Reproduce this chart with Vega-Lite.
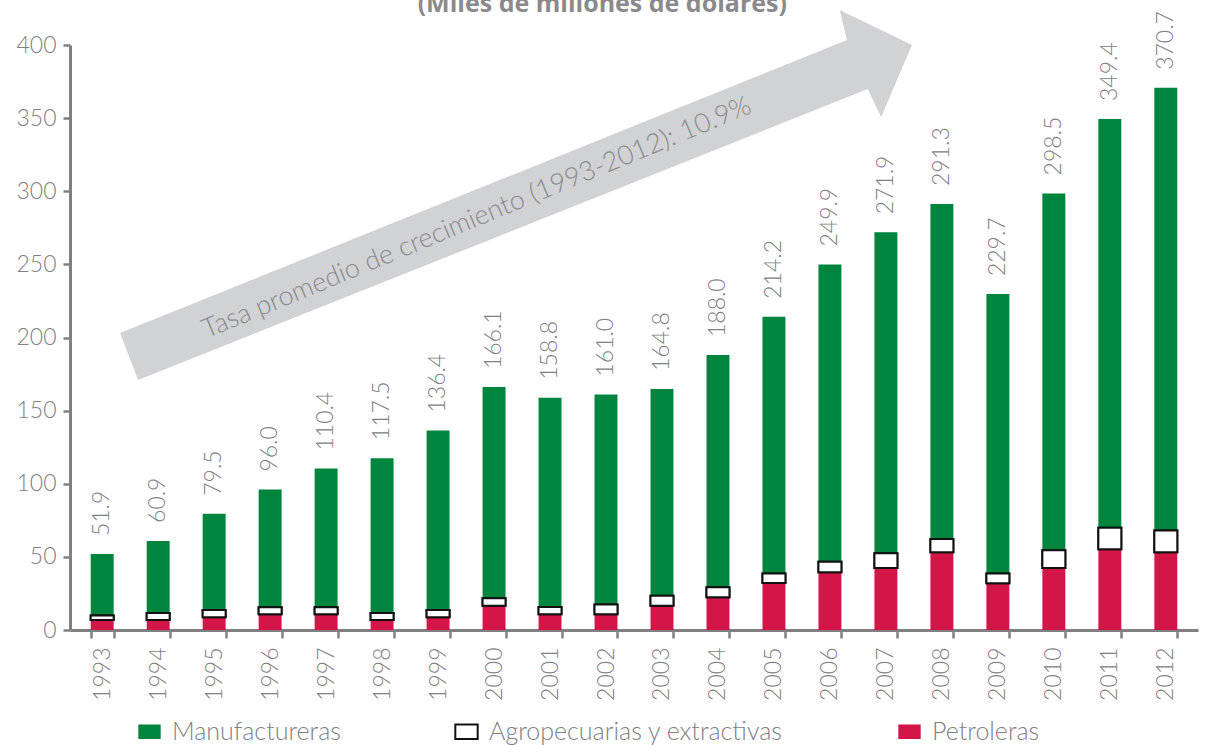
{
  "$schema": "https://vega.github.io/schema/vega-lite/v6.json",
  "width": 1128,
  "height": 585,
  "autosize": {"type": "none"},
  "padding": {"left": 70, "top": 45, "right": 10, "bottom": 115},
  "background": "white",
  "config": {
    "view": {"stroke": null},
    "font": "Lato",
    "axis": {"domainColor": "#808084", "domainWidth": 3, "tickColor": "#808084", "tickWidth": 2.5, "labelColor": "#808084", "labelFont": "Lato", "labelFontWeight": 300, "labelFontSize": 23, "grid": false, "title": null},
    "legend": {"orient": "none", "legendX": 67, "legendY": 674, "direction": "horizontal", "columnPadding": 110, "labelFont": "Lato", "labelFontWeight": 300, "labelFontSize": 25, "labelLimit": 500, "labelColor": "#808084", "symbolType": "M-1,-0.65L1,-0.65L1,0.65L-1,0.65Z", "symbolSize": 500, "symbolStrokeWidth": 2, "labelOffset": 10, "title": null}
  },
  "datasets": {
    "bars": [
      {"year": "1993", "serie": "Petroleras", "orden": 1, "valor": 6.9},
      {"year": "1994", "serie": "Petroleras", "orden": 1, "valor": 6.9},
      {"year": "1995", "serie": "Petroleras", "orden": 1, "valor": 8.7},
      {"year": "1996", "serie": "Petroleras", "orden": 1, "valor": 10.7},
      {"year": "1997", "serie": "Petroleras", "orden": 1, "valor": 10.7},
      {"year": "1998", "serie": "Petroleras", "orden": 1, "valor": 6.9},
      {"year": "1999", "serie": "Petroleras", "orden": 1, "valor": 8.7},
      {"year": "2000", "serie": "Petroleras", "orden": 1, "valor": 16.6},
      {"year": "2001", "serie": "Petroleras", "orden": 1, "valor": 10.7},
      {"year": "2002", "serie": "Petroleras", "orden": 1, "valor": 10.7},
      {"year": "2003", "serie": "Petroleras", "orden": 1, "valor": 16.6},
      {"year": "2004", "serie": "Petroleras", "orden": 1, "valor": 22.4},
      {"year": "2005", "serie": "Petroleras", "orden": 1, "valor": 32.2},
      {"year": "2006", "serie": "Petroleras", "orden": 1, "valor": 39.5},
      {"year": "2007", "serie": "Petroleras", "orden": 1, "valor": 42.4},
      {"year": "2008", "serie": "Petroleras", "orden": 1, "valor": 53.1},
      {"year": "2009", "serie": "Petroleras", "orden": 1, "valor": 31.9},
      {"year": "2010", "serie": "Petroleras", "orden": 1, "valor": 42.4},
      {"year": "2011", "serie": "Petroleras", "orden": 1, "valor": 55.2},
      {"year": "2012", "serie": "Petroleras", "orden": 1, "valor": 53.1},
      {"year": "1993", "serie": "Manufactureras", "orden": 3, "valor": 41.9},
      {"year": "1994", "serie": "Manufactureras", "orden": 3, "valor": 49.3},
      {"year": "1995", "serie": "Manufactureras", "orden": 3, "valor": 65.8},
      {"year": "1996", "serie": "Manufactureras", "orden": 3, "valor": 80.5},
      {"year": "1997", "serie": "Manufactureras", "orden": 3, "valor": 94.9},
      {"year": "1998", "serie": "Manufactureras", "orden": 3, "valor": 105.9},
      {"year": "1999", "serie": "Manufactureras", "orden": 3, "valor": 122.7},
      {"year": "2000", "serie": "Manufactureras", "orden": 3, "valor": 144.4},
      {"year": "2001", "serie": "Manufactureras", "orden": 3, "valor": 143.1},
      {"year": "2002", "serie": "Manufactureras", "orden": 3, "valor": 143.5},
      {"year": "2003", "serie": "Manufactureras", "orden": 3, "valor": 141.3},
      {"year": "2004", "serie": "Manufactureras", "orden": 3, "valor": 158.8},
      {"year": "2005", "serie": "Manufactureras", "orden": 3, "valor": 175.5},
      {"year": "2006", "serie": "Manufactureras", "orden": 3, "valor": 203.2},
      {"year": "2007", "serie": "Manufactureras", "orden": 3, "valor": 219.5},
      {"year": "2008", "serie": "Manufactureras", "orden": 3, "valor": 229.1},
      {"year": "2009", "serie": "Manufactureras", "orden": 3, "valor": 191.0},
      {"year": "2010", "serie": "Manufactureras", "orden": 3, "valor": 244.0},
      {"year": "2011", "serie": "Manufactureras", "orden": 3, "valor": 279.5},
      {"year": "2012", "serie": "Manufactureras", "orden": 3, "valor": 302.6},
      {"year": "1993", "serie": "Agropecuarias y extractivas", "orden": 2, "valor": 3.1},
      {"year": "1994", "serie": "Agropecuarias y extractivas", "orden": 2, "valor": 4.7},
      {"year": "1995", "serie": "Agropecuarias y extractivas", "orden": 2, "valor": 5.0},
      {"year": "1996", "serie": "Agropecuarias y extractivas", "orden": 2, "valor": 4.8},
      {"year": "1997", "serie": "Agropecuarias y extractivas", "orden": 2, "valor": 4.8},
      {"year": "1998", "serie": "Agropecuarias y extractivas", "orden": 2, "valor": 4.7},
      {"year": "1999", "serie": "Agropecuarias y extractivas", "orden": 2, "valor": 5.0},
      {"year": "2000", "serie": "Agropecuarias y extractivas", "orden": 2, "valor": 5.1},
      {"year": "2001", "serie": "Agropecuarias y extractivas", "orden": 2, "valor": 5.0},
      {"year": "2002", "serie": "Agropecuarias y extractivas", "orden": 2, "valor": 6.8},
      {"year": "2003", "serie": "Agropecuarias y extractivas", "orden": 2, "valor": 6.9},
      {"year": "2004", "serie": "Agropecuarias y extractivas", "orden": 2, "valor": 6.8},
      {"year": "2005", "serie": "Agropecuarias y extractivas", "orden": 2, "valor": 6.5},
      {"year": "2006", "serie": "Agropecuarias y extractivas", "orden": 2, "valor": 7.2},
      {"year": "2007", "serie": "Agropecuarias y extractivas", "orden": 2, "valor": 10.0},
      {"year": "2008", "serie": "Agropecuarias y extractivas", "orden": 2, "valor": 9.1},
      {"year": "2009", "serie": "Agropecuarias y extractivas", "orden": 2, "valor": 6.8},
      {"year": "2010", "serie": "Agropecuarias y extractivas", "orden": 2, "valor": 12.1},
      {"year": "2011", "serie": "Agropecuarias y extractivas", "orden": 2, "valor": 14.7},
      {"year": "2012", "serie": "Agropecuarias y extractivas", "orden": 2, "valor": 15.0}
    ],
    "totals": [
      {"year": "1993", "total": 51.9}, {"year": "1994", "total": 60.9}, {"year": "1995", "total": 79.5},
      {"year": "1996", "total": 96.0}, {"year": "1997", "total": 110.4}, {"year": "1998", "total": 117.5},
      {"year": "1999", "total": 136.4}, {"year": "2000", "total": 166.1}, {"year": "2001", "total": 158.8},
      {"year": "2002", "total": 161.0}, {"year": "2003", "total": 164.8}, {"year": "2004", "total": 188.0},
      {"year": "2005", "total": 214.2}, {"year": "2006", "total": 249.9}, {"year": "2007", "total": 271.9},
      {"year": "2008", "total": 291.3}, {"year": "2009", "total": 229.7}, {"year": "2010", "total": 298.5},
      {"year": "2011", "total": 349.4}, {"year": "2012", "total": 370.7}
    ],
    "arrow": [
      {"i": 1, "x": 1993.32, "y": 203.1},
      {"i": 2, "x": 2006.30, "y": 403.4},
      {"i": 3, "x": 2006.17, "y": 423.9},
      {"i": 4, "x": 2007.46, "y": 400.0},
      {"i": 5, "x": 2006.91, "y": 350.8},
      {"i": 6, "x": 2006.67, "y": 369.9},
      {"i": 7, "x": 1993.64, "y": 170.9},
      {"i": 8, "x": 1993.32, "y": 203.1}
    ],
    "note": [
      {"x": 1999.69, "y": 281.7, "texto": "Tasa promedio de crecimiento (1993-2012): 10.9%"}
    ],
    "titulo": [
      {"x": 2001.93, "y": 422.6, "texto": "(Miles de millones de dólares)"}
    ]
  },
  "layer": [
    {
      "layer": [
        {
          "data": {"name": "arrow"},
          "mark": {"type": "line", "filled": true, "fill": "#d1d2d4", "stroke": null, "interpolate": "linear"},
          "encoding": {
            "x": {"field": "x", "type": "quantitative", "scale": {"domain": [1992.425, 2012.568], "nice": false, "zero": false}, "axis": null},
            "y": {"field": "y", "type": "quantitative", "scale": {"domain": [0, 400], "nice": false},
                  "axis": {"values": [0, 50, 100, 150, 200, 250, 300, 350, 400], "tickSize": 7, "labelPadding": 7}},
            "order": {"field": "i", "type": "quantitative"}
          }
        },
        {
          "data": {"name": "note"},
          "mark": {"type": "text", "angle": -22.5, "fontSize": 27, "fontWeight": 300, "font": "Lato", "color": "#8a8a8c", "align": "center", "baseline": "middle"},
          "encoding": {
            "x": {"field": "x", "type": "quantitative"},
            "y": {"field": "y", "type": "quantitative"},
            "text": {"field": "texto"}
          }
        },
        {
          "data": {"name": "titulo"},
          "mark": {"type": "text", "fontSize": 25, "fontWeight": "bold", "font": "Open Sans", "color": "#8a8a8c", "align": "center", "baseline": "alphabetic"},
          "encoding": {
            "x": {"field": "x", "type": "quantitative"},
            "y": {"field": "y", "type": "quantitative"},
            "text": {"field": "texto"}
          }
        }
      ]
    },
    {
      "layer": [
        {
          "data": {"name": "bars"},
          "mark": {"type": "bar", "strokeWidth": 2},
          "encoding": {
            "x": {"field": "year", "type": "ordinal", "scale": {"paddingInner": 0.59, "paddingOuter": 0.37},
                  "axis": {"orient": "bottom", "labelAngle": -90, "tickBand": "extent", "tickSize": 8, "labelPadding": 9}},
            "y": {"field": "valor", "type": "quantitative", "stack": "zero", "scale": {"domain": [0, 400], "nice": false},
                  "axis": {"values": [0, 50, 100, 150, 200, 250, 300, 350, 400], "tickSize": 7, "labelPadding": 7}},
            "fill": {"field": "serie", "type": "nominal", "scale": {"domain": ["Manufactureras", "Agropecuarias y extractivas", "Petroleras"], "range": ["#00853f", "#ffffff", "#d31548"]}},
            "stroke": {"field": "serie", "type": "nominal", "scale": {"domain": ["Manufactureras", "Agropecuarias y extractivas", "Petroleras"], "range": ["transparent", "#111111", "transparent"]}},
            "order": {"field": "orden", "type": "quantitative"}
          }
        },
        {
          "data": {"name": "bars"},
          "transform": [
            {"stack": "valor", "groupby": ["year"], "sort": [{"field": "orden", "order": "ascending"}], "as": ["v0", "v1"]},
            {"filter": "datum.orden == 2"}
          ],
          "mark": {"type": "bar", "fill": "#ffffff", "stroke": "#111111", "strokeWidth": 2},
          "encoding": {
            "x": {"field": "year", "type": "ordinal"},
            "y": {"field": "v0", "type": "quantitative"},
            "y2": {"field": "v1"}
          }
        },
        {
          "data": {"name": "totals"},
          "mark": {"type": "text", "angle": -90, "align": "left", "baseline": "middle", "dx": 18, "fontSize": 23, "fontWeight": 300, "font": "Lato", "color": "#808084"},
          "encoding": {
            "x": {"field": "year", "type": "ordinal"},
            "y": {"field": "total", "type": "quantitative"},
            "text": {"field": "total", "type": "quantitative", "format": ".1f"}
          }
        }
      ]
    }
  ],
  "resolve": {"scale": {"x": "independent"}}
}
